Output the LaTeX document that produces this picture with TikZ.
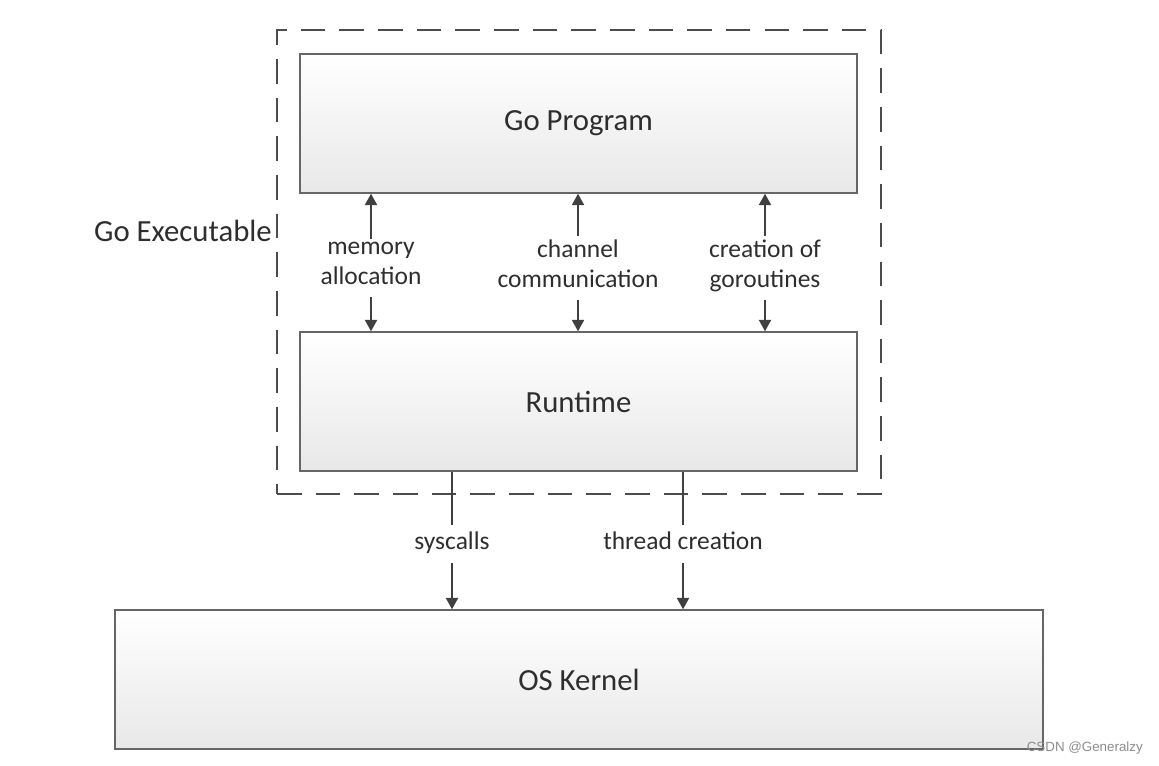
\documentclass[tikz,border=0pt]{standalone}
\usepackage{fontspec}
\setmainfont{Carlito}
\newfontfamily\marksans{Liberation Sans}
\usetikzlibrary{arrows.meta,positioning,shadows}

\begin{document}
\begin{tikzpicture}[x=0.02cm, y=-0.02cm, font=\fontsize{14.5}{17}\selectfont, text=black!82]
\tikzstyle{layer}=[draw=black!60, line width=0.9pt, top color=white, bottom color=black!9, minimum width=11.14cm, minimum height=2.78cm, font=\fontsize{17.5}{21}\selectfont, drop shadow={shadow xshift=0.8pt, shadow yshift=-0.8pt, opacity=0.25}]
\tikzstyle{group}=[draw=black!70, line width=1.1pt, dash pattern=on 14pt off 8pt, minimum width=12.08cm, minimum height=9.28cm]
\tikzstyle{call}=[align=center, inner sep=2pt, execute at begin node=\strut, execute at end node=\strut]
\tikzstyle{wire}=[draw=black!75, line width=0.8pt]
\tikzstyle{link}=[wire, -{Triangle[width=7pt,length=6.5pt]}]
\useasboundingbox (0,0) rectangle (1159,766);
% layers
\node[group] (exe) at (579,262) {};
\node[anchor=east, font=\fontsize{17.5}{21}\selectfont] (exelbl) at (278,231) {Go Executable};
\node[layer] (prog) at (578.5,123.5) {Go Program};
\node[layer] (rt) at (578.5,401.5) {Runtime};
\node[layer, minimum width=18.56cm] (kern) at (579,679.5) {OS Kernel};
% program <-> runtime
\node[call] (mem) at (371,268) {memory\\allocation};
\node[call] (chan) at (578,268) {channel\\communication};
\node[call] (gor) at (765,268) {creation of\\goroutines};
\foreach \n in {mem,chan,gor} {
  \draw[link] (\n) -- (\n |- prog.south);
  \draw[link] (\n) -- (\n |- rt.north);
}
% runtime -> kernel
\node[call] (sys) at (452,544) {syscalls};
\node[call] (thr) at (683,544) {thread creation};
\foreach \n in {sys,thr} {
  \draw[wire] (rt.south -| \n) -- (\n);
  \draw[link] (\n) -- (kern.north -| \n);
}
\node[anchor=east, font=\marksans\fontsize{7.6}{9}\selectfont, text=black!45] (mark) at (1149,748) {CSDN @Generalzy};
\end{tikzpicture}
\end{document}
